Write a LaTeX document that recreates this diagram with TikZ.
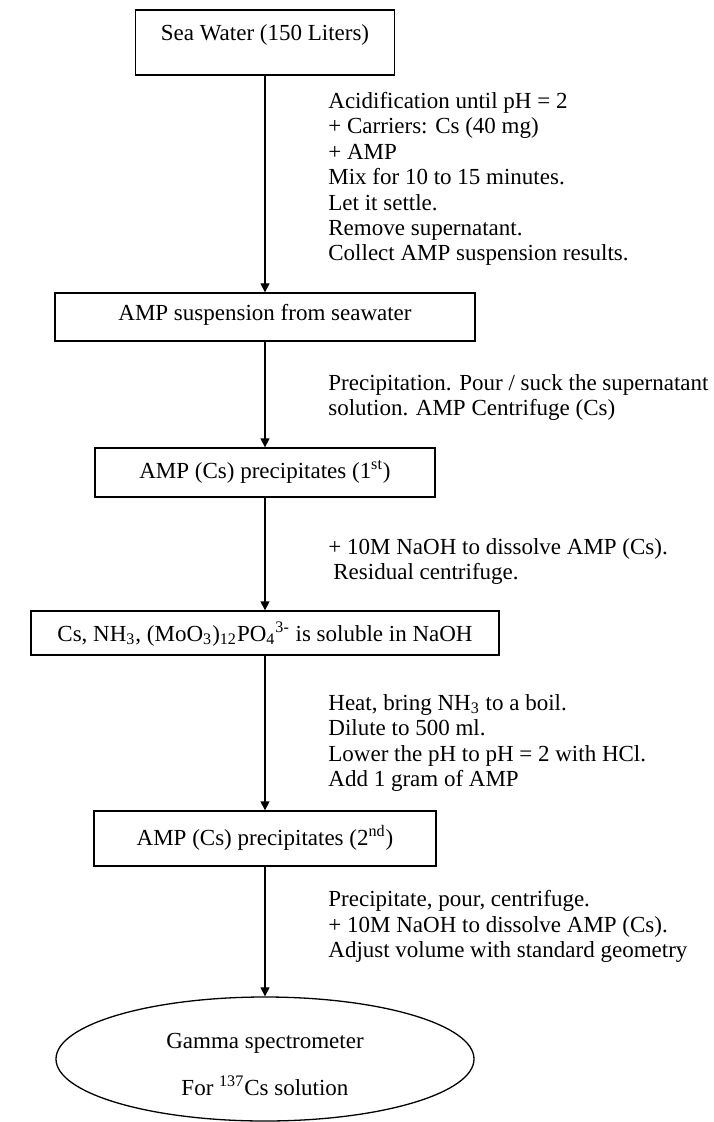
\documentclass[tikz,border=0pt]{standalone}
\usepackage{fontspec}
\setmainfont{Liberation Serif}
\usetikzlibrary{arrows.meta,shapes.geometric}
\begin{document}
\begin{tikzpicture}[x=0.5pt,y=-0.5pt,
  font=\fontsize{11.5}{12.7}\selectfont,
  stepbox/.style={draw, line width=0.65pt, rectangle, inner sep=0pt},
  endell/.style={draw, line width=0.65pt, ellipse, inner sep=0pt},
  arr/.style={line width=0.65pt, -{Triangle[length=4.5pt,width=4.5pt]}},
  note/.style={anchor=north west, align=left, inner sep=0pt},
  boxtext/.style={anchor=base, inner sep=0pt}]
\useasboundingbox (0,0) rectangle (713,1122);

% boxes
\node[stepbox, minimum width=129.5pt, minimum height=32.5pt] (b1) at (265,42.5) {};
\node[stepbox, minimum width=210pt, minimum height=24pt] (b2) at (265,317) {};
\node[stepbox, minimum width=170pt, minimum height=24.5pt] (b3) at (265,472.5) {};
\node[stepbox, minimum width=234pt, minimum height=22pt] (b4) at (265,633) {};
\node[stepbox, minimum width=171pt, minimum height=27.5pt] (b5) at (265,838.5) {};
\node[endell, minimum width=209pt, minimum height=62pt] (e1) at (265,1059) {};

% box texts
\node[boxtext] (t1) at (265,41) {Sea Water (150 Liters)};
\node[boxtext] (t2) at (265,321) {AMP suspension from seawater};
\node[boxtext] (t3) at (265,478) {AMP (Cs) precipitates (1\textsuperscript{st})};
\node[boxtext] (t4) at (265,641) {Cs, NH\textsubscript{3}, (MoO\textsubscript{3})\textsubscript{12}PO\textsubscript{4}\textsuperscript{3-} is soluble in NaOH};
\node[boxtext] (t5) at (265,845) {AMP (Cs) precipitates (2\textsuperscript{nd})};
\node[boxtext] (t6) at (265,1048) {Gamma spectrometer};
\node[boxtext] (t7) at (265,1095) {For \textsuperscript{137}Cs solution};

% arrows
\draw[arr] (b1.south) -- (b2.north);
\draw[arr] (b2.south) -- (b3.north);
\draw[arr] (b3.south) -- (b4.north);
\draw[arr] (b4.south) -- (b5.north);
\draw[arr] (b5.south) -- (e1.north);

% notes
\node[note] (n1) at (328,92) {Acidification until pH = 2\\+ Carriers: Cs (40 mg)\\+ AMP\\Mix for 10 to 15 minutes.\\Let it settle.\\Remove supernatant.\\Collect AMP suspension results.};
\node[note] (n2) at (328,374) {Precipitation. Pour / suck the supernatant\\solution. AMP Centrifuge (Cs)};
\node[note] (n3) at (328,538) {+ 10M NaOH to dissolve AMP (Cs).\\\hspace{2.5pt}Residual centrifuge.};
\node[note] (n4) at (328,694) {Heat, bring NH\textsubscript{3} to a boil.\\Dilute to 500 ml.\\Lower the pH to pH = 2 with HCl.\\Add 1 gram of AMP};
\node[note] (n5) at (328,890) {Precipitate, pour, centrifuge.\\+ 10M NaOH to dissolve AMP (Cs).\\Adjust volume with standard geometry};
\end{tikzpicture}
\end{document}
